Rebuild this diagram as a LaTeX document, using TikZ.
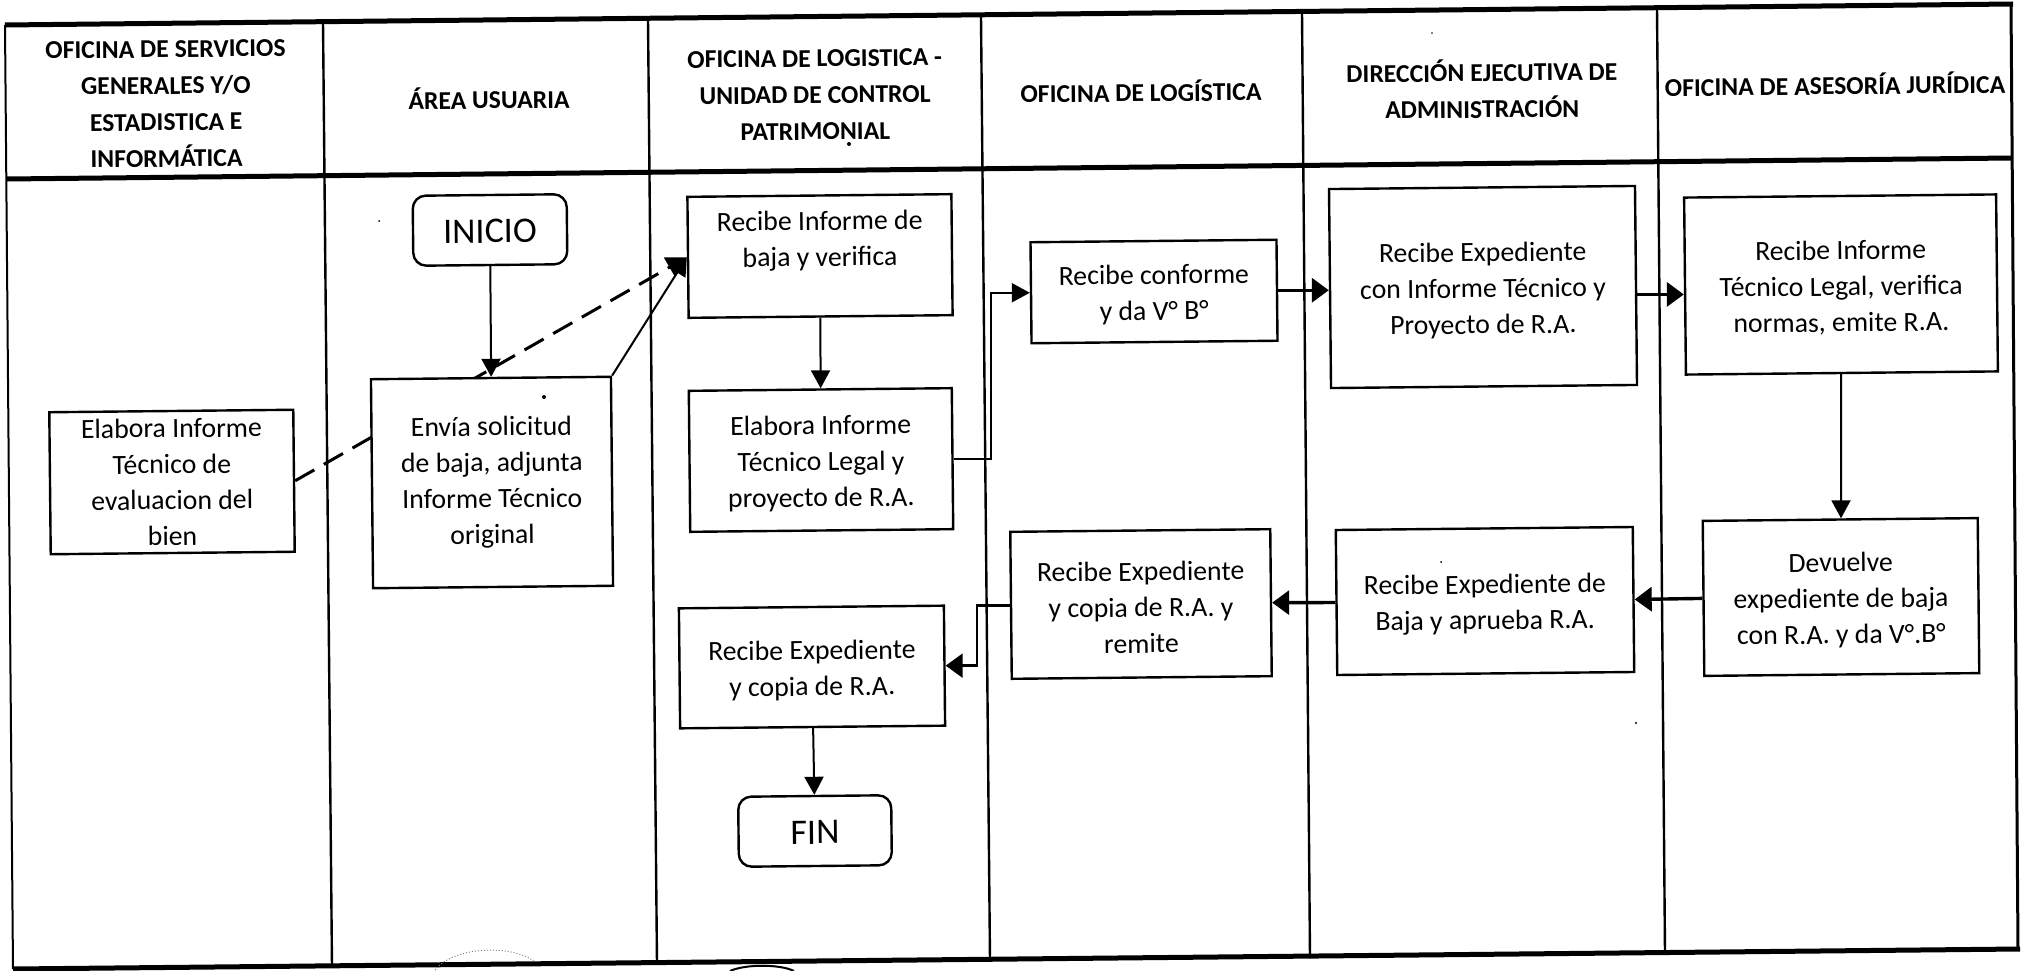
\documentclass[tikz,border=0pt]{standalone}
\usepackage{fontspec}
\setmainfont{Carlito}
\usetikzlibrary{arrows.meta}
\newcommand{\lowertext}{\rule{0pt}{26pt}}
\tikzset{
  boxn/.style={draw=black,fill=white,line width=2.4pt,rotate=0.58,inner sep=0pt,align=center,
    font=\fontsize{27.8}{36}\selectfont},
  term/.style={boxn,rounded corners=13pt,font=\fontsize{36}{36}\selectfont},
  head/.style={rotate=0.58,inner sep=0pt,align=center,font=\fontsize{25.7}{36.5}\selectfont\bfseries},
  frame/.style={line width=2.4pt,draw=black},
  heavy/.style={line width=5pt,draw=black},
  arr/.style={line width=2pt,draw=black,-{Triangle[length=18pt,width=19pt]}},
  arrk/.style={line width=3.4pt,draw=black,-{Triangle[length=17pt,width=24pt]}},
  dashedarrow/.style={line width=3pt,draw=black,dash pattern=on 22pt off 11pt,-{Triangle[length=20pt,width=22pt]}},
  speck/.style={fill=black}
}
\begin{document}
\begin{tikzpicture}[x=1pt,y=-1pt]
\useasboundingbox (0,0) rectangle (2024,971);
\fill[white] (0,0) rectangle (2024,971);
% table
\draw[heavy] (5,25) -- (2013,4);
\draw[heavy] (7,179) -- (2012,158);
\draw[heavy] (13,969) -- (2020,949);
\draw[line width=2pt] (5,25) -- (13,969);
\draw[frame] (323,22) -- (332,967);
\draw[frame] (648,20) -- (657,964);
\draw[frame] (981,17) -- (990,961);
\draw[frame] (1302,13) -- (1310,958);
\draw[frame] (1657,9) -- (1665,954);
\draw[line width=3pt] (2011,4) -- (2018,950);
% headers
\node[head] (h1) at (166,104) {OFICINA DE SERVICIOS\\GENERALES Y/O\\ESTADISTICA E\\INFORMÁTICA};
\node[head] (h2) at (489,98) {ÁREA USUARIA};
\node[head] (h3) at (815,95) {OFICINA DE LOGISTICA -\\UNIDAD DE CONTROL\\PATRIMONIAL};
\node[head] (h4) at (1141,91) {OFICINA DE LOGÍSTICA};
\node[head] (h5) at (1482,89) {DIRECCIÓN EJECUTIVA DE\\ADMINISTRACIÓN};
\node[head] (h6) at (1835,84) {OFICINA DE ASESORÍA JURÍDICA};
% dashed connector runs behind the box of the Área usuaria
\node[boxn,minimum width=244pt,minimum height=142pt] (inf) at (172,482) {Elabora Informe\\Técnico de\\evaluacion del\\bien};
\node[boxn,minimum width=264pt,minimum height=121pt] (rec) at (820,256) {Recibe Informe de\\baja y verifica\\[-12pt]\strut};
\draw[dashedarrow] (inf.east) -- (rec.west);
\node[boxn,minimum width=240pt,minimum height=209pt] (env) at (492,482.5) {Envía solicitud\\de baja, adjunta\\Informe Técnico\\original};
\node[term,minimum width=154pt,minimum height=70pt] (ini) at (490,230) {\lowertext INICIO};
\node[boxn,minimum width=263pt,minimum height=141pt] (leg) at (821,460) {\lowertext Elabora Informe\\Técnico Legal y\\proyecto de R.A.};
\node[boxn,minimum width=265pt,minimum height=120pt] (cop) at (812,667) {\lowertext Recibe Expediente\\y copia de R.A.};
\node[term,minimum width=153pt,minimum height=70pt] (fin) at (815,831) {\lowertext FIN};
\node[boxn,minimum width=246pt,minimum height=101pt] (con) at (1154,291.5) {\lowertext Recibe conforme\\y da V° B°};
\node[boxn,minimum width=306pt,minimum height=199pt] (exp) at (1483,287) {\lowertext Recibe Expediente\\con Informe Técnico y\\Proyecto de R.A.};
\node[boxn,minimum width=312pt,minimum height=177pt] (jur) at (1841,284.5) {\lowertext Recibe Informe\\Técnico Legal, verifica\\normas, emite R.A.};
\node[boxn,minimum width=275pt,minimum height=155pt] (dev) at (1841,597) {\lowertext Devuelve\\expediente de baja\\con R.A. y da V°.B°};
\node[boxn,minimum width=297pt,minimum height=145pt] (baj) at (1485,601) {\lowertext Recibe Expediente de\\Baja y aprueba R.A.};
\node[boxn,minimum width=260pt,minimum height=147pt] (rem) at (1141,604) {\lowertext Recibe Expediente\\y copia de R.A. y\\remite};
% connectors
\coordinate (va) at (991,375);
\coordinate (vb) at (977,640);
\draw[arr] (ini) -- (env);
\draw[line width=2pt,-{Triangle[length=18pt,width=19pt]}] (env.north east) -- (rec.west);
\draw[arr] (rec) -- (leg);
\draw[line width=2pt,draw=black,-{Triangle[length=18pt,width=19pt]}] (leg.east) -- (leg.east -| va) |- (con.west);
\draw[arrk] (con.east) -- (exp.west |- con.east);
\draw[arrk] ([yshift=-9pt]exp.east) -- ([yshift=-9pt]exp.east -| jur.west);
\draw[arr] (jur) -- (dev.north -| jur);
\draw[arrk] (dev.west) -- (baj.east);
\draw[arrk] (baj.west) -- (rem.east);
\draw[line width=2.4pt,draw=black,-{Triangle[length=17pt,width=24pt]}] (rem.west) -- (rem.west -| vb) |- (cop.east);
\draw[arr] (cop) -- (fin);
% scan marks
\fill[speck] (849,144) circle (2pt);
\fill[speck] (544,397) circle (2pt);
\fill[speck] (379,221) circle (1pt);
\fill[speck] (1441,562) circle (1pt);
\fill[speck] (1636,723) circle (1.2pt);
\fill[speck] (1432,33) circle (.8pt);
\draw[gray,line width=1pt,dotted] (435,970) .. controls (455,945) and (515,945) .. (535,962);
\draw[line width=2pt] (730,971) .. controls (745,964) and (780,964) .. (794,971);
\end{tikzpicture}
\end{document}
